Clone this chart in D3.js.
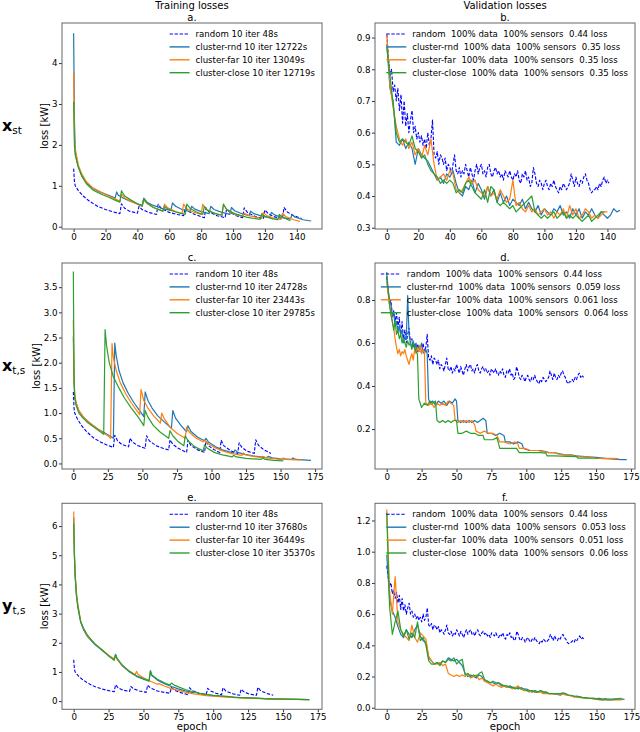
<!DOCTYPE html>
<html>
<head>
<meta charset="utf-8">
<title>Training and validation losses</title>
<script src="https://cdn.jsdelivr.net/npm/d3@7/dist/d3.min.js"></script>
<style>
  body { margin: 0; background: #fff; }
  svg, svg text { font-family: "DejaVu Sans", "Liberation Sans", sans-serif; }
  .leg text { white-space: pre; }
</style>
</head>
<body>
<div id="chart"></div>
<script>
// ---- data ----
var seriesColors = ["#0000ff", "#1f77b4", "#ff7f0e", "#2ca02c"];

// training loss, random selection (same run in a, c, e) : [epoch, loss]
var trainRandom = [[0,1.42],[0.5,1.1],[1,1.0],[3,0.88],[6,0.75],[10,0.62],[15,0.5],[20,0.42],[25,0.36],[29,0.32],
  [30,0.56],[32,0.45],[35,0.38],[40,0.33],[41,0.5],[43,0.42],[47,0.35],[52,0.3],[53,0.55],[55,0.45],[60,0.35],
  [65,0.3],[69,0.27],[70,0.47],[72,0.38],[76,0.3],[82,0.22],[83,0.46],[85,0.36],[90,0.27],[95,0.22],[96,0.44],
  [98,0.35],[102,0.27],[106,0.22],[107,0.46],[109,0.35],[114,0.25],[119,0.2],[120,0.41],[122,0.32],[126,0.24],
  [131,0.2],[132,0.47],[134,0.36],[138,0.27],[143,0.2]];

// panel a : x_st training
var trainRndA = [[0,4.73],[0.5,2.6],[1,1.85],[2,1.6],[3,1.45],[5,1.25],[8,1.07],[12,0.94],[17,0.84],[22,0.77],[26,0.7],
  [27,0.85],[28,0.77],[31,0.7],[35,0.63],[40,0.56],[43,0.52],[44,0.7],[46,0.6],[50,0.52],[55,0.45],[61,0.4],[62,0.58],
  [64,0.5],[68,0.42],[73,0.37],[74,0.5],[76,0.43],[80,0.37],[85,0.32],[86,0.5],[88,0.42],[93,0.35],[98,0.3],[99,0.47],
  [101,0.39],[106,0.31],[110,0.27],[111,0.38],[113,0.32],[118,0.26],[123,0.22],[124,0.35],[126,0.29],[131,0.22],
  [136,0.19],[137,0.3],[139,0.23],[144,0.17],[149,0.14]];
var trainFarA = [[0,3.8],[0.5,2.2],[1,1.9],[3,1.5],[5,1.3],[8,1.1],[12,0.95],[17,0.85],[22,0.75],[26,0.68],[29,0.62],
  [30,0.8],[32,0.7],[36,0.62],[40,0.55],[43,0.5],[44,0.65],[46,0.57],[50,0.47],[56,0.38],[57,0.55],[59,0.46],[64,0.37],
  [68,0.32],[69,0.55],[71,0.44],[75,0.36],[80,0.3],[81,0.55],[83,0.43],[88,0.33],[93,0.28],[94,0.55],[96,0.42],
  [100,0.32],[106,0.25],[107,0.33],[110,0.27],[118,0.2],[119,0.35],[121,0.27],[126,0.2],[130,0.18],[131,0.33],
  [133,0.25],[138,0.17],[142,0.13]];
var trainCloseA = [[0,3.05],[0.5,2.0],[1,1.75],[3,1.45],[5,1.25],[8,1.05],[12,0.9],[17,0.8],[22,0.72],[26,0.65],[29,0.6],
  [30,0.88],[32,0.75],[36,0.65],[40,0.56],[43,0.5],[44,0.68],[46,0.58],[50,0.47],[56,0.38],[57,0.5],[59,0.43],[64,0.36],
  [70,0.3],[71,0.55],[73,0.45],[77,0.36],[81,0.3],[82,0.5],[84,0.4],[89,0.32],[93,0.28],[94,0.55],[96,0.42],[101,0.32],
  [106,0.26],[110,0.22],[117,0.18],[118,0.32],[120,0.25],[125,0.19],[128,0.17],[129,0.3],[131,0.23],[136,0.15]];

// panel c : x_t,s training
var trainRndC = [[0,2.52],[0.5,1.6],[1,1.35],[2,1.2],[4,1.05],[7,0.93],[10,0.85],[14,0.76],[18,0.68],[22,0.62],[26,0.55],
  [29,0.5],[30,2.39],[31,2.15],[33,1.85],[36,1.6],[40,1.38],[44,1.2],[48,1.05],[51,0.93],[52,1.42],[54,1.25],[57,1.1],
  [61,0.95],[66,0.82],[71,0.7],[72,1.05],[74,0.9],[78,0.75],[82,0.63],[83,0.75],[85,0.64],[90,0.52],[95,0.45],[96,0.5],
  [98,0.42],[103,0.33],[108,0.27],[113,0.23],[116,0.21],[117,0.27],[119,0.22],[124,0.18],[130,0.15],[136,0.13],
  [140,0.11],[141,0.14],[144,0.11],[150,0.09],[158,0.08],[159,0.11],[161,0.08],[166,0.07],[172,0.06]];
var trainFarC = [[0,2.85],[0.5,1.7],[1,1.35],[2,1.2],[4,1.05],[7,0.93],[10,0.85],[14,0.76],[18,0.68],[22,0.6],[25,0.55],
  [27,0.5],[28,2.38],[29,2.1],[31,1.85],[34,1.6],[38,1.38],[42,1.2],[46,1.05],[48,0.97],[49,1.47],[51,1.25],[54,1.1],
  [58,0.95],[63,0.8],[64,1.0],[66,0.88],[70,0.72],[75,0.6],[81,0.5],[82,0.72],[84,0.62],[89,0.5],[94,0.43],[95,0.47],
  [97,0.4],[102,0.32],[108,0.25],[114,0.2],[122,0.16],[123,0.21],[125,0.17],[130,0.14],[136,0.12],[137,0.14],
  [140,0.11],[146,0.09],[151,0.08],[152,0.11],[154,0.08],[160,0.07],[165,0.07]];
var trainCloseC = [[0,3.81],[0.5,1.8],[1,1.3],[2,1.15],[4,1.0],[7,0.9],[10,0.82],[14,0.74],[18,0.66],[21,0.6],[22,0.58],
  [23,2.66],[24,2.35],[26,2.0],[29,1.72],[33,1.5],[37,1.3],[42,1.1],[47,0.92],[51,0.75],[52,1.05],[54,0.92],[58,0.75],
  [63,0.62],[69,0.5],[70,0.65],[72,0.55],[76,0.43],[80,0.35],[81,0.55],[83,0.45],[88,0.33],[94,0.25],[95,0.37],
  [97,0.3],[102,0.22],[108,0.17],[115,0.13],[116,0.16],[118,0.13],[125,0.1],[136,0.08],[137,0.11],[139,0.08],
  [145,0.06],[152,0.05]];

// panel e : y_t,s training
var trainRndE = [[0,6.3],[0.5,5.0],[1,4.3],[2,3.6],[3,3.2],[5,2.7],[7,2.45],[10,2.2],[15,1.95],[20,1.75],[25,1.55],
  [29,1.42],[30,1.6],[31,1.45],[35,1.2],[40,1.0],[45,0.85],[50,0.75],[54,0.68],[55,1.02],[56,0.88],[60,0.72],[65,0.6],
  [70,0.5],[75,0.42],[80,0.35],[85,0.29],[87,0.32],[90,0.26],[95,0.22],[100,0.19],[110,0.15],[120,0.12],[130,0.1],
  [140,0.08],[150,0.07],[160,0.06],[169,0.05]];
var trainFarE = [[0,6.5],[0.5,5.1],[1,4.4],[2,3.7],[3,3.3],[5,2.75],[7,2.5],[10,2.22],[15,1.97],[20,1.77],[25,1.57],
  [29,1.45],[30,1.55],[31,1.45],[35,1.22],[40,1.02],[44,0.9],[45,1.02],[46,0.92],[50,0.8],[55,0.68],[60,0.58],[61,0.6],
  [65,0.52],[70,0.43],[75,0.37],[80,0.31],[85,0.26],[90,0.22],[95,0.19],[100,0.17],[110,0.14],[120,0.11],[130,0.09],
  [140,0.08],[150,0.07],[160,0.06],[168,0.05]];
var trainCloseE = [[0,6.1],[0.5,5.0],[1,4.3],[2,3.6],[3,3.25],[5,2.72],[7,2.5],[10,2.25],[15,1.97],[20,1.77],[25,1.56],
  [29,1.4],[30,1.6],[31,1.47],[35,1.22],[40,1.02],[45,0.87],[50,0.77],[54,0.7],[55,1.05],[56,0.9],[60,0.75],[65,0.63],
  [69,0.55],[70,0.62],[72,0.55],[76,0.47],[80,0.4],[85,0.33],[90,0.27],[95,0.23],[100,0.2],[110,0.16],[115,0.13],
  [120,0.12],[130,0.1],[140,0.08],[150,0.07],[160,0.06],[169,0.05]];

// validation loss, random selection (same run in b, d, f), one value per epoch
var valRandom = [0.91,0.84,0.78,0.8,0.73,0.75,0.7,0.74,0.67,0.72,0.63,0.7,0.62,0.66,0.6,0.64,0.67,0.6,0.62,0.58,
  0.6,0.57,0.59,0.56,0.58,0.55,0.6,0.56,0.58,0.64,0.53,0.52,0.54,0.5,0.53,0.52,0.5,0.52,0.48,0.5,
  0.49,0.47,0.5,0.53,0.48,0.47,0.49,0.46,0.48,0.47,0.5,0.48,0.46,0.49,0.47,0.45,0.48,0.5,0.47,0.49,
  0.5,0.47,0.48,0.46,0.49,0.5,0.47,0.46,0.48,0.49,0.47,0.48,0.46,0.47,0.45,0.48,0.47,0.46,0.48,0.46,
  0.45,0.47,0.46,0.48,0.45,0.44,0.47,0.46,0.48,0.45,0.46,0.43,0.44,0.49,0.47,0.44,0.43,0.45,0.44,0.42,
  0.44,0.45,0.43,0.42,0.44,0.43,0.45,0.43,0.42,0.41,0.43,0.42,0.44,0.43,0.42,0.43,0.44,0.47,0.45,0.43,
  0.46,0.44,0.43,0.45,0.44,0.46,0.47,0.45,0.44,0.42,0.41,0.42,0.42,0.43,0.42,0.44,0.43,0.45,0.46,0.44,
  0.45,0.44];

// panel b : x_st validation, one value every 2 epochs
var valRndB = [0.88,0.74,0.7,0.57,0.56,0.58,0.55,0.57,0.55,0.5,0.55,0.53,0.52,0.51,0.49,0.47,0.45,0.46,0.44,0.47,
  0.46,0.48,0.44,0.41,0.4,0.43,0.42,0.45,0.41,0.44,0.42,0.39,0.43,0.4,0.42,0.38,0.41,0.38,0.4,0.37,
  0.39,0.38,0.37,0.39,0.36,0.38,0.36,0.35,0.37,0.34,0.36,0.35,0.34,0.36,0.35,0.37,0.34,0.35,0.33,0.36,
  0.34,0.36,0.33,0.35,0.34,0.36,0.34,0.33,0.35,0.34,0.33,0.34,0.36,0.35,0.355];
var valFarB = [0.91,0.75,0.68,0.62,0.58,0.56,0.58,0.55,0.57,0.53,0.55,0.52,0.56,0.53,0.58,0.5,0.45,0.46,0.47,0.45,
  0.48,0.47,0.42,0.41,0.42,0.44,0.46,0.44,0.45,0.42,0.41,0.4,0.43,0.4,0.41,0.39,0.42,0.4,0.38,0.39,
  0.45,0.37,0.38,0.36,0.35,0.37,0.35,0.36,0.34,0.35,0.36,0.34,0.35,0.33,0.35,0.34,0.36,0.33,0.37,0.34,
  0.36,0.33,0.34,0.36,0.35,0.33,0.34,0.33,0.34,0.35,0.35];
var valCloseB = [0.87,0.78,0.69,0.6,0.57,0.58,0.57,0.56,0.59,0.55,0.54,0.52,0.53,0.5,0.48,0.47,0.46,0.44,0.45,0.44,
  0.45,0.44,0.41,0.42,0.41,0.44,0.45,0.43,0.41,0.4,0.39,0.42,0.38,0.43,0.42,0.38,0.37,0.38,0.37,0.36,
  0.37,0.35,0.36,0.37,0.38,0.39,0.4,0.35,0.34,0.33,0.34,0.33,0.34,0.35,0.33,0.34,0.35,0.33,0.34,0.33,
  0.34,0.33,0.32,0.33,0.34,0.32,0.33,0.34,0.35,0.35];

// panel d : x_t,s validation : [epoch, loss]
var valRndD = [[0,0.9],[1,0.85],[2,0.8],[3,0.78],[4,0.72],[5,0.74],[6,0.68],[7,0.7],[8,0.65],[9,0.68],[10,0.64],
  [11,0.66],[12,0.6],[13,0.63],[14,0.62],[15,0.82],[16,0.64],[17,0.6],[18,0.58],[19,0.61],[20,0.57],[21,0.6],[22,0.56],
  [23,0.59],[24,0.57],[25,0.6],[26,0.56],[27,0.55],[28,0.57],[29,0.55],[30,0.34],[31,0.32],[33,0.33],[35,0.31],
  [37,0.33],[39,0.32],[41,0.33],[43,0.31],[45,0.33],[47,0.32],[49,0.34],[50,0.33],[51,0.24],[53,0.23],[55,0.24],
  [57,0.23],[59,0.24],[61,0.23],[63,0.24],[65,0.23],[67,0.24],[69,0.25],[71,0.24],[72,0.18],[75,0.18],[78,0.17],
  [81,0.18],[84,0.17],[85,0.14],[88,0.14],[91,0.13],[94,0.14],[97,0.13],[98,0.11],[102,0.1],[106,0.1],[110,0.1],
  [114,0.095],[116,0.09],[120,0.09],[124,0.085],[128,0.08],[132,0.08],[136,0.075],[140,0.073],[145,0.07],[150,0.068],
  [155,0.065],[158,0.062],[163,0.06],[168,0.058],[172,0.058]];
var valFarD = [[0,0.88],[1,0.83],[2,0.78],[3,0.74],[4,0.7],[5,0.67],[6,0.62],[7,0.58],[8,0.55],[9,0.57],[10,0.54],
  [11,0.56],[12,0.55],[13,0.57],[14,0.54],[15,0.52],[16,0.5],[17,0.53],[18,0.55],[19,0.52],[20,0.57],[21,0.55],
  [22,0.58],[23,0.56],[24,0.59],[25,0.55],[26,0.57],[27,0.56],[28,0.32],[30,0.31],[32,0.32],[34,0.3],[36,0.32],
  [38,0.31],[40,0.32],[42,0.31],[44,0.33],[46,0.32],[48,0.31],[49,0.24],[51,0.23],[53,0.24],[55,0.23],[57,0.24],
  [59,0.23],[61,0.24],[63,0.22],[64,0.19],[67,0.18],[70,0.19],[73,0.18],[76,0.18],[79,0.17],[81,0.14],[84,0.14],
  [88,0.13],[92,0.14],[94,0.13],[95,0.11],[99,0.11],[103,0.1],[108,0.1],[112,0.095],[116,0.09],[120,0.09],[122,0.085],
  [126,0.08],[130,0.08],[134,0.075],[138,0.072],[142,0.07],[147,0.068],[150,0.065],[155,0.062],[160,0.063],[166,0.062]];
var valCloseD = [[0,0.93],[1,0.85],[2,0.78],[3,0.73],[4,0.7],[5,0.66],[6,0.7],[7,0.64],[8,0.66],[9,0.62],[10,0.64],
  [11,0.6],[12,0.62],[13,0.6],[14,0.58],[15,0.61],[16,0.59],[17,0.6],[18,0.57],[19,0.6],[20,0.58],[21,0.56],[22,0.55],
  [23,0.34],[24,0.32],[25,0.3],[27,0.32],[29,0.31],[31,0.33],[33,0.32],[35,0.33],[36,0.24],[38,0.23],[40,0.24],
  [42,0.23],[44,0.24],[46,0.23],[48,0.24],[50,0.24],[51,0.18],[54,0.18],[57,0.19],[60,0.18],[63,0.18],[66,0.17],
  [69,0.17],[70,0.15],[73,0.15],[76,0.15],[79,0.16],[81,0.11],[85,0.11],[89,0.11],[93,0.11],[95,0.09],[100,0.09],
  [105,0.09],[110,0.09],[114,0.088],[115,0.075],[120,0.075],[125,0.074],[130,0.073],[136,0.072],[137,0.065],
  [142,0.065],[147,0.064],[152,0.064]];

// panel f : y_t,s validation, one value every 2 epochs
var valRndF = [0.98,0.7,0.62,0.58,0.52,0.47,0.45,0.5,0.47,0.45,0.5,0.53,0.46,0.43,0.42,0.32,0.3,0.28,0.29,0.28,
  0.3,0.29,0.32,0.31,0.3,0.31,0.29,0.27,0.22,0.2,0.21,0.2,0.19,0.21,0.2,0.17,0.17,0.16,0.16,0.15,
  0.16,0.14,0.14,0.13,0.14,0.13,0.13,0.12,0.13,0.12,0.12,0.11,0.1,0.11,0.1,0.11,0.1,0.1,0.09,0.09,
  0.09,0.085,0.08,0.09,0.09,0.08,0.075,0.07,0.075,0.07,0.065,0.065,0.06,0.06,0.06,0.058,0.06,0.055,0.058,0.055,
  0.055,0.055,0.057,0.055,0.055,0.053];
var valFarF = [1.27,0.75,0.6,0.84,0.55,0.5,0.47,0.45,0.43,0.53,0.45,0.42,0.48,0.46,0.44,0.33,0.3,0.28,0.28,0.29,
  0.27,0.28,0.22,0.21,0.2,0.21,0.2,0.21,0.2,0.22,0.19,0.2,0.21,0.18,0.19,0.17,0.16,0.15,0.14,0.15,
  0.14,0.13,0.14,0.13,0.13,0.12,0.13,0.14,0.12,0.11,0.11,0.1,0.11,0.1,0.1,0.1,0.09,0.09,0.09,0.09,
  0.085,0.09,0.085,0.09,0.08,0.08,0.075,0.07,0.07,0.065,0.065,0.06,0.06,0.06,0.055,0.055,0.05,0.05,0.055,0.05,
  0.05,0.05,0.05,0.05,0.05];
var valCloseF = [1.25,0.65,0.47,0.55,0.62,0.5,0.46,0.5,0.44,0.48,0.45,0.55,0.43,0.45,0.4,0.3,0.28,0.28,0.29,0.27,
  0.3,0.29,0.31,0.3,0.32,0.28,0.3,0.31,0.21,0.22,0.2,0.21,0.2,0.22,0.23,0.18,0.17,0.16,0.17,0.16,
  0.16,0.15,0.14,0.14,0.13,0.13,0.12,0.13,0.12,0.12,0.11,0.11,0.11,0.1,0.1,0.11,0.1,0.1,0.09,0.09,
  0.09,0.09,0.09,0.095,0.09,0.08,0.08,0.075,0.07,0.07,0.065,0.065,0.06,0.06,0.06,0.055,0.055,0.05,0.05,0.05,
  0.05,0.052,0.055,0.058,0.06];

// legend labels
var legendA = ["random 10 iter 48s", "cluster-rnd 10 iter 12722s", "cluster-far 10 iter 13049s", "cluster-close 10 iter 12719s"];
var legendB = ["random  100% data  100% sensors  0.44 loss", "cluster-rnd  100% data  100% sensors  0.35 loss",
  "cluster-far  100% data  100% sensors  0.35 loss", "cluster-close  100% data  100% sensors  0.35 loss"];
var legendC = ["random 10 iter 48s", "cluster-rnd 10 iter 24728s", "cluster-far 10 iter 23443s", "cluster-close 10 iter 29785s"];
var legendD = ["random  100% data  100% sensors  0.44 loss", "cluster-rnd  100% data  100% sensors  0.059 loss",
  "cluster-far  100% data  100% sensors  0.061 loss", "cluster-close  100% data  100% sensors  0.064 loss"];
var legendE = ["random 10 iter 48s", "cluster-rnd 10 iter 37680s", "cluster-far 10 iter 36449s", "cluster-close 10 iter 35370s"];
var legendF = ["random  100% data  100% sensors  0.44 loss", "cluster-rnd  100% data  100% sensors  0.053 loss",
  "cluster-far  100% data  100% sensors  0.051 loss", "cluster-close  100% data  100% sensors  0.06 loss"];

var xTicks150 = [0, 20, 40, 60, 80, 100, 120, 140];
var xTicks175 = [0, 25, 50, 75, 100, 125, 150, 175];
var rowLabels = [["x", "st"], ["x", "t,s"], ["y", "t,s"]];

// ---- drawing ----
var FONT = "DejaVu Sans, sans-serif";

function perEpoch(vals, step) {
  return vals.map(function(v, i) { return [i * step, v]; });
}

function main() {
  var width = 640, height = 732;
  var colLeft = [62, 375], rowTop = [23, 263, 503.3];
  var pw = 260, ph = 206;

  var svg = d3.select("#chart").append("svg")
    .attr("width", width)
    .attr("height", height)
    .attr("font-family", FONT);

  var panels = [
    { tag: "a.", col: 0, row: 0, xd: [-7.3, 155.8], yd: [-0.056, 4.98], xt: xTicks150, yt: [0,1,2,3,4], yf: "d",
      series: [trainRandom, trainRndA, trainFarA, trainCloseA], legend: legendA },
    { tag: "b.", col: 1, row: 0, xd: [-7.5, 157.5], yd: [0.296, 0.946], xt: xTicks150, yt: [0.3,0.4,0.5,0.6,0.7,0.8,0.9], yf: ".1f",
      series: [perEpoch(valRandom, 1), perEpoch(valRndB, 2), perEpoch(valFarB, 2), perEpoch(valCloseB, 2)], legend: legendB },
    { tag: "c.", col: 0, row: 1, xd: [-8.2, 180], yd: [-0.11, 3.98], xt: xTicks175, yt: [0,0.5,1,1.5,2,2.5,3,3.5], yf: ".1f",
      series: [trainRandom, trainRndC, trainFarC, trainCloseC], legend: legendC },
    { tag: "d.", col: 1, row: 1, xd: [-8.4, 177.9], yd: [0.014, 0.972], xt: xTicks175, yt: [0.2,0.4,0.6,0.8], yf: ".1f",
      series: [perEpoch(valRandom, 1), valRndD, valFarD, valCloseD], legend: legendD },
    { tag: "e.", col: 0, row: 2, xd: [-8.4, 178], yd: [-0.28, 6.78], xt: xTicks175, yt: [0,1,2,3,4,5,6], yf: "d",
      series: [trainRandom, trainRndE, trainFarE, trainCloseE], legend: legendE },
    { tag: "f.", col: 1, row: 2, xd: [-8.4, 177.5], yd: [-0.01, 1.31], xt: xTicks175, yt: [0,0.2,0.4,0.6,0.8,1.0,1.2], yf: ".1f",
      series: [perEpoch(valRandom, 1), perEpoch(valRndF, 2), perEpoch(valFarF, 2), perEpoch(valCloseF, 2)], legend: legendF }
  ];

  function label(sel, size) {
    return sel.attr("font-family", FONT).style("font-family", FONT)
      .style("font-size", size + "px").attr("fill", "#000");
  }

  panels.forEach(function(p, pi) {
    var left = colLeft[p.col], top = rowTop[p.row];
    var g = svg.append("g").attr("transform", "translate(" + left + "," + top + ")");
    var x = d3.scaleLinear().domain(p.xd).range([0, pw]);
    var y = d3.scaleLinear().domain(p.yd).range([ph, 0]);

    var clipId = "clip" + pi;
    g.append("clipPath").attr("id", clipId)
      .append("rect").attr("width", pw).attr("height", ph);

    var line = d3.line()
      .x(function(d) { return x(d[0]); })
      .y(function(d) { return y(d[1]); });

    var lines = g.append("g").attr("clip-path", "url(#" + clipId + ")");
    p.series.forEach(function(s, i) {
      lines.append("path")
        .attr("d", line(s))
        .attr("fill", "none")
        .attr("stroke", seriesColors[i])
        .attr("stroke-width", i == 0 ? 1.1 : 1.2)
        .attr("stroke-dasharray", i == 0 ? "3.4,1.6" : null)
        .attr("stroke-linejoin", "round");
    });

    // axes
    var xa = g.append("g").attr("transform", "translate(0," + ph + ")")
      .call(d3.axisBottom(x).tickValues(p.xt).tickSize(3).tickPadding(1.5).tickSizeOuter(0));
    var ya = g.append("g")
      .call(d3.axisLeft(y).tickValues(p.yt).tickFormat(d3.format(p.yf)).tickSize(3).tickPadding(1.5).tickSizeOuter(0));
    [xa, ya].forEach(function(a) {
      a.attr("font-family", FONT);
      a.select(".domain").remove();
      a.selectAll("line").attr("stroke", "#333");
      label(a.selectAll("text"), 8.7);
    });

    g.append("rect")
      .attr("width", pw).attr("height", ph)
      .attr("fill", "none").attr("stroke", "#666").attr("stroke-width", 1);

    // panel letter
    label(g.append("text"), 10).attr("x", pw / 2).attr("y", -2.5)
      .attr("text-anchor", "middle").text(p.tag);

    // legend, anchored top right
    var lg = g.append("g").attr("class", "leg");
    var txt = lg.selectAll("text").data(p.legend).enter().append("text")
      .attr("y", function(d, i) { return 11 + i * 12.9 + 3; })
      .text(function(d) { return d; });
    label(txt, 8.6);
    var maxW = d3.max(txt.nodes(), function(n) { return n.getComputedTextLength(); });
    var tx = pw - 7 - maxW;
    txt.attr("x", tx);
    p.legend.forEach(function(d, i) {
      lg.append("line")
        .attr("x1", tx - 26).attr("x2", tx - 6)
        .attr("y1", 11 + i * 12.9).attr("y2", 11 + i * 12.9)
        .attr("stroke", seriesColors[i])
        .attr("stroke-width", i == 0 ? 1.1 : 1.4)
        .attr("stroke-dasharray", i == 0 ? "3.4,1.6" : null);
    });

    if (p.col == 0) {
      var bb = ya.node().getBBox();
      label(g.append("text"), 10)
        .attr("transform", "translate(" + (bb.x - 4) + "," + ph / 2 + ") rotate(-90)")
        .attr("text-anchor", "middle").text("loss [kW]");

      var rl = rowLabels[p.row];
      var lab = label(svg.append("text"), 16)
        .attr("x", 2).attr("y", top + ph / 2 + 5);
      lab.append("tspan").style("font-weight", "bold").text(rl[0]);
      lab.append("tspan").attr("dy", 2.5).style("font-size", "10.5px").text(rl[1]);
    }
    if (p.row == 2) {
      label(g.append("text"), 10).attr("x", pw / 2).attr("y", ph + 21)
        .attr("text-anchor", "middle").text("epoch");
    }
    if (p.row == 0) {
      label(g.append("text"), 10).attr("x", pw / 2).attr("y", -14.5)
        .attr("text-anchor", "middle")
        .text(p.col == 0 ? "Training losses" : "Validation losses");
    }
  });
}

window.onload = main;
</script>
</body>
</html>
